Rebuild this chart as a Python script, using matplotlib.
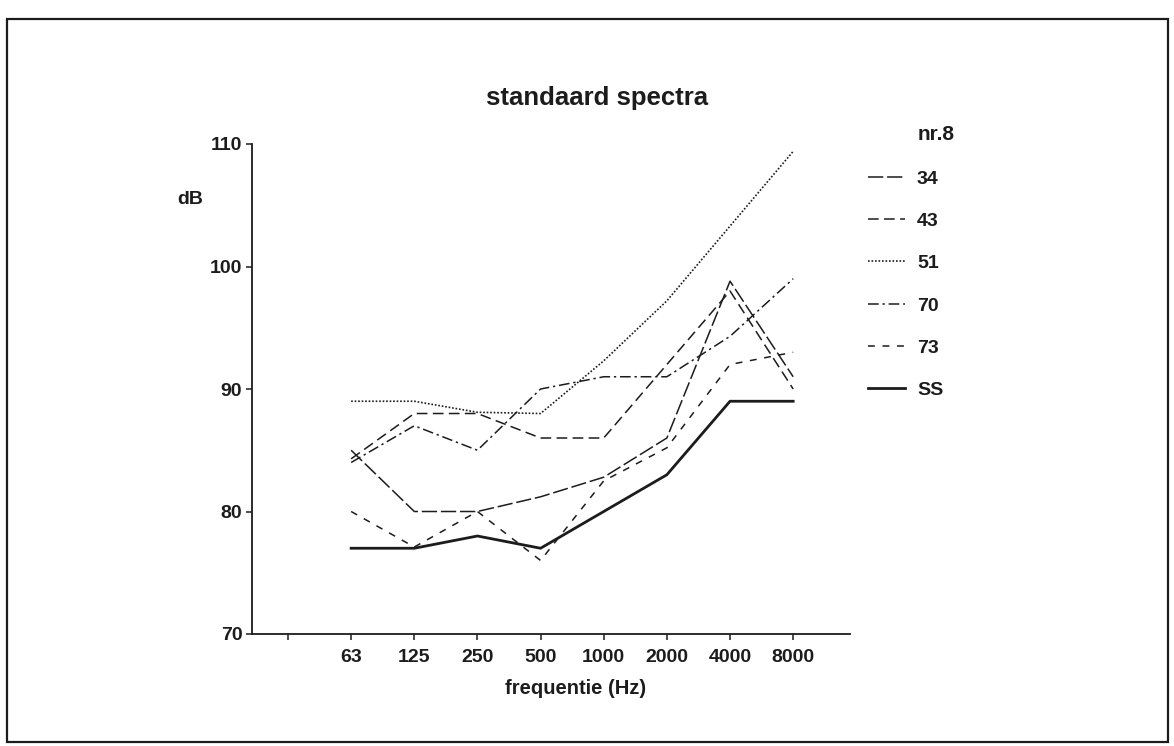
import matplotlib
matplotlib.use('Agg')
import numpy as np
import matplotlib.pyplot as plt
from matplotlib.patches import Rectangle

# ---- data ----
freq_labels = ['63', '125', '250', '500', '1000', '2000', '4000', '8000']
series_names = ['34', '43', '51', '70', '73', 'SS']
s34 = [85.0, 80.0, 80.0, 81.2, 82.8, 86.0, 98.8, 91.0]
s43 = [84.3, 88.0, 88.0, 86.0, 86.0, 92.0, 98.0, 90.0]
s51 = [89.0, 89.0, 88.1, 88.0, 92.3, 97.2, 103.3, 109.4]
s70 = [84.0, 87.0, 85.0, 90.0, 91.0, 91.0, 94.3, 99.0]
s73 = [80.0, 77.1, 80.0, 76.0, 82.5, 85.2, 92.0, 93.0]
sSS = [77.0, 77.0, 78.0, 77.0, 80.0, 83.0, 89.0, 89.0]
y_ticks = [70, 80, 90, 100, 110]
title = 'standaard spectra'
xlabel = 'frequentie (Hz)'
ylabel = 'dB'
legend_title = 'nr.8'

plt.rcParams['font.family'] = ['Liberation Sans', 'DejaVu Sans']
ink = '#1c1c1c'

W, H = 1174, 746
fig = plt.figure(figsize=(W / 100, H / 100), dpi=100)
fig.patch.set_facecolor('white')

def fx(px):
    return px / W

def fy(py):
    return 1 - py / H

# page frame
fig.add_artist(Rectangle((fx(7), fy(742)), fx(1168) - fx(7), fy(19) - fy(742),
                         transform=fig.transFigure, fill=False,
                         edgecolor=ink, linewidth=1.6))

left, right, top, bottom = 252, 850, 144, 634
ax = fig.add_axes([fx(left), fy(bottom), fx(right) - fx(left), fy(top) - fy(bottom)])

x = np.arange(len(freq_labels)) + 2

styles = [
    dict(ls=(0, (10, 2.5)), lw=1.1),
    dict(ls=(0, (7, 3.5)), lw=1.1),
    dict(ls=(0, (1, 1.1)), lw=1.2),
    dict(ls=(0, (7, 2.5, 1.5, 2.5)), lw=1.1),
    dict(ls=(0, (4.5, 5)), lw=1.1),
    dict(ls='-', lw=2.0),
]
data = [s34, s43, s51, s70, s73, sSS]
for name, vals, st in zip(series_names, data, styles):
    ax.plot(x, vals, color=ink, label=name, dash_capstyle='butt', **st)

ax.set_xlim(0.43, 9.9)
ax.set_ylim(70, 110)
ax.set_yticks(y_ticks)
ax.set_yticklabels([str(v) for v in y_ticks])
ax.set_xticks(np.concatenate([[1], x]))
ax.set_xticklabels([''] + freq_labels)

for s in ['top', 'right']:
    ax.spines[s].set_visible(False)
for s in ['left', 'bottom']:
    ax.spines[s].set_color(ink)
    ax.spines[s].set_linewidth(1.3)

ax.tick_params(axis='both', direction='out', length=4, width=1.1, color=ink,
               labelsize=14, labelcolor=ink)
ax.tick_params(axis='x', pad=7)
ax.tick_params(axis='y', pad=3)
for lab in ax.get_xticklabels() + ax.get_yticklabels():
    lab.set_fontweight('bold')

fig.text(fx(597), fy(98), title, ha='center', va='center', fontsize=18.5,
         fontweight='bold', color=ink)
fig.text(fx(576), fy(689), xlabel, ha='center', va='center', fontsize=14.5,
         fontweight='bold', color=ink)
fig.text(fx(190), fy(200), ylabel, ha='center', va='center', fontsize=14,
         fontweight='bold', color=ink)
fig.text(fx(918), fy(134), legend_title, ha='left', va='center', fontsize=15,
         fontweight='bold', color=ink)

leg = ax.legend(loc='upper left', bbox_to_anchor=(fx(868), fy(170)),
                bbox_transform=fig.transFigure, frameon=False,
                borderpad=0, borderaxespad=0, handlelength=1.9,
                handletextpad=0.62, labelspacing=1.27, fontsize=14)
for t in leg.get_texts():
    t.set_fontweight('bold')
    t.set_color(ink)

fig.savefig('out.png', dpi=100, facecolor='white')
